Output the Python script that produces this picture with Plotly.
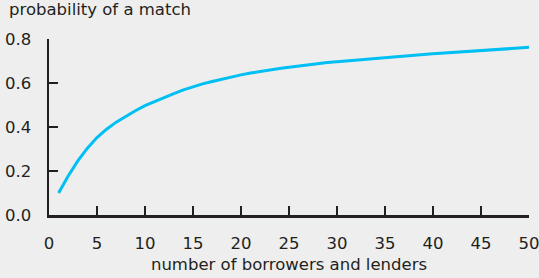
import plotly.graph_objects as go

n_participants = list(range(1, 51))
match_probability = [
    0.100, 0.177, 0.246, 0.304, 0.352, 0.390, 0.422, 0.450, 0.474, 0.497,
    0.516, 0.534, 0.552, 0.569, 0.583, 0.596, 0.607, 0.618, 0.628, 0.637,
    0.645, 0.653, 0.660, 0.666, 0.672, 0.678, 0.683, 0.688, 0.693, 0.697,
    0.701, 0.705, 0.709, 0.713, 0.717, 0.720, 0.723, 0.727, 0.730, 0.733,
    0.736, 0.739, 0.741, 0.744, 0.747, 0.750, 0.753, 0.756, 0.759, 0.762,
]
x_ticks = [0, 5, 10, 15, 20, 25, 30, 35, 40, 45, 50]
y_ticks = [0.0, 0.2, 0.4, 0.6, 0.8]

FONT = "DejaVu Sans"
FS = 16.5
TXT = "#231f20"
AX = "#231f20"

fig = go.Figure()
fig.add_trace(go.Scatter(
    x=n_participants, y=match_probability, mode="lines",
    line=dict(color="#00BFF3", width=3),
    hoverinfo="skip", showlegend=False,
))

fig.update_layout(
    width=539, height=278,
    margin=dict(l=49, r=10, t=39, b=63, autoexpand=False),
    paper_bgcolor="#eeeeee", plot_bgcolor="#eeeeee",
    font=dict(family=FONT, size=FS, color=TXT),
    title=dict(
        text="probability of a match", xref="container", yref="container",
        x=9/539, xanchor="left", y=1 - 3/278, yanchor="top",
        font=dict(family=FONT, size=FS, color=TXT), pad=dict(t=0, l=0, b=0, r=0),
    ),
)
fig.update_xaxes(
    range=[0, 50], tickvals=x_ticks, ticktext=[str(v) for v in x_ticks],
    showgrid=False, zeroline=False, automargin=False,
    showline=True, linecolor=AX, linewidth=2.5,
    ticks="inside", ticklen=9, tickwidth=2, tickcolor=AX,
    ticklabelstandoff=12, ticklabeloverflow="allow",
    title=dict(text="number of borrowers and lenders", standoff=6,
               font=dict(family=FONT, size=FS, color=TXT)),
)
fig.update_yaxes(
    range=[0, 0.8], tickvals=y_ticks, ticktext=[f"{v:.1f}" for v in y_ticks],
    showgrid=False, zeroline=False, automargin=False,
    showline=True, linecolor=AX, linewidth=2.5,
    ticks="inside", ticklen=9, tickwidth=2, tickcolor=AX,
    ticklabelstandoff=12, ticklabeloverflow="allow",
)

fig.write_html(
    "out.html",
    config={"displayModeBar": False, "staticPlot": True},
    post_script="document.body.style.margin='0';document.body.style.padding='0';"
                "document.body.style.overflow='hidden';",
)
